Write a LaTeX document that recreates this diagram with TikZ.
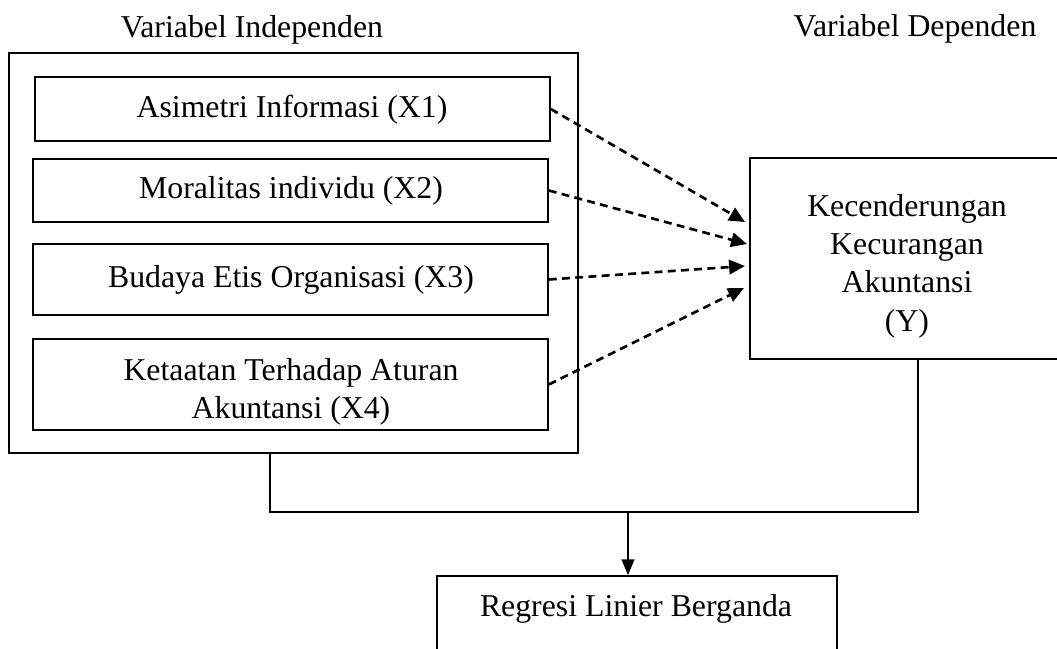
\documentclass[tikz,border=0pt]{standalone}
\usepackage{fontspec}
\setmainfont{Liberation Serif}
\usetikzlibrary{arrows.meta,fit,positioning}

\tikzset{
  outerbox/.style={draw,line width=1pt,inner sep=0pt},
  varbox/.style={draw,line width=0.6pt,inner sep=0pt},
  teks/.style={align=center,inner sep=0pt},
  dasharrow/.style={line width=1pt,dash pattern=on 3pt off 2pt,-{Triangle[length=6pt,width=5.4pt]}},
  link/.style={line width=0.4pt},
}

\begin{document}
\begin{tikzpicture}[x=0.3774pt,y=-0.3774pt,font=\fontsize{12}{14.5}\selectfont]
\useasboundingbox (0,0) rectangle (1057,649);

\node[anchor=base] (indep) at (252,38) {Variabel Independen};
\node[anchor=base] (dep) at (915,37) {Variabel Dependen};

% kotak variabel independen
\node[outerbox,fit={(9,53) (578,453)}] (kelompok) {};
\node[varbox,fit={(35,77) (550,141)}] (x1) {};
\node[varbox,fit={(33,159) (548,222)}] (x2) {};
\node[varbox,fit={(33,244) (548,315)}] (x3) {};
\node[varbox,fit={(33,339) (548,430)}] (x4) {};
\node[teks] (x1teks) at (292,110) {Asimetri Informasi (X1)};
\node[teks] (x2teks) at (291,191) {Moralitas individu (X2)};
\node[teks] (x3teks) at (291,280) {Budaya Etis Organisasi (X3)};
\node[teks] (x4teks) at (291,392) {Ketaatan Terhadap Aturan\\Akuntansi (X4)};

% variabel dependen
\node[varbox,fit={(750,158) (1064,359)}] (y) {};
\node[teks] (yteks) at (907,266) {Kecenderungan\\Kecurangan\\Akuntansi\\(Y)};

\node[varbox,fit={(437,576) (837,700)}] (regresi) {};
\node[anchor=base] (regteks) at (636,617) {Regresi Linier Berganda};

\coordinate (t1) at (745,222);
\coordinate (t2) at (747,244);
\coordinate (t3) at (745,266);
\coordinate (t4) at (744,288);
\draw[dasharrow] (x1.east) -- (t1);
\draw[dasharrow] (x2.east) -- (t2);
\draw[dasharrow] (x3.east) -- (t3);
\draw[dasharrow] (x4.east) -- (t4);

\coordinate (kkaki) at (270,453);
\coordinate (ykaki) at (918,359);
\coordinate (simpul) at (628,512);
\draw[link] (kkaki) |- (simpul) -| (ykaki);
\draw[line width=0.8pt,-{Triangle[length=6pt,width=4.8pt]}] (simpul) -- (simpul |- regresi.north);
\end{tikzpicture}
\end{document}
